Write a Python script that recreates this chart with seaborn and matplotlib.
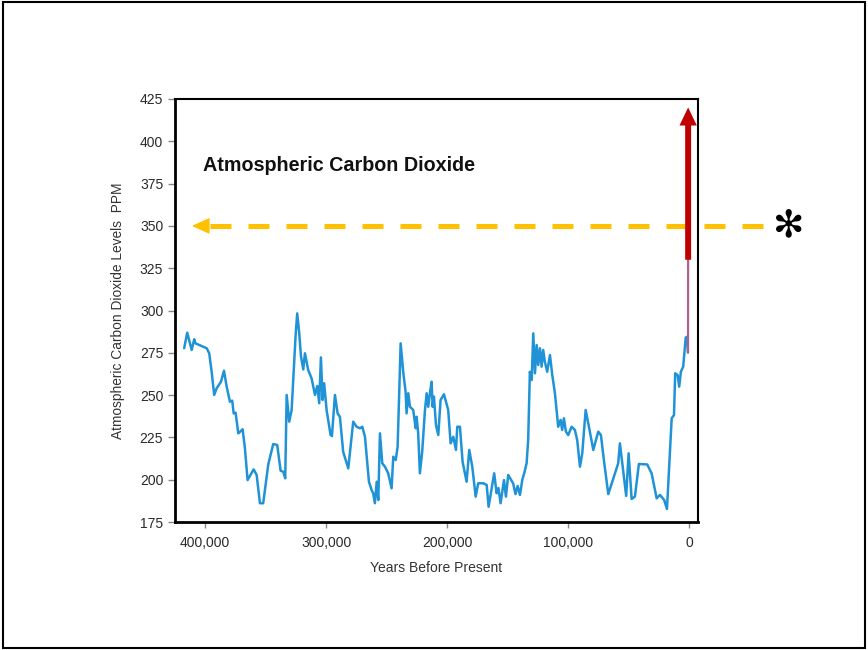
import matplotlib
matplotlib.use("Agg")
import numpy as np
import pandas as pd
import matplotlib.pyplot as plt
import seaborn as sns
from matplotlib.patches import Rectangle
from matplotlib.ticker import FuncFormatter


# Ice core record (years before present, ppm)
years = [
    417400, 414900, 411200, 409100, 408100, 398800, 396700, 394700, 392600, 390600,
    387000, 384500, 382300, 379600, 377700, 376500, 374900, 372700, 371100, 369100,
    367200, 365000, 360000, 357500, 354800, 352100, 347900, 343800, 340500, 337700,
    335500, 333900, 332700, 330600, 328600, 325300, 324000, 322300, 320900, 319000,
    317600, 314900, 312100, 309300, 307400, 305800, 304400, 303000, 301700, 299700,
    296400, 295300, 292800, 290600, 288700, 286000, 281800, 277700, 274900, 272100,
    270200, 268000, 264700, 262500, 261200, 259800, 258300, 257000, 255600, 253700,
    251500, 248800, 246000, 244600, 242600, 241000, 238500, 236400, 234400, 233600,
    232200, 230800, 228100, 226100, 225300, 224000, 222600, 220700, 218400, 217000,
    215700, 214300, 212900, 212100, 211000, 209300, 207400, 205500, 202700, 199200,
    197200, 195000, 192800, 191700, 189500, 187300, 184000, 181800, 179300, 176500,
    174400, 170200, 167400, 165800, 161200, 159200, 157700, 155900, 153100, 151500,
    149600, 145500, 143600, 141800, 139900, 138000, 136400, 134400, 133100, 131700,
    130200, 128900, 127500, 126100, 124800, 123400, 122000, 120700, 119300, 117400,
    115100, 113200, 111000, 108300, 106300, 105000, 103600, 101900, 100000, 97200,
    94500, 92600, 90300, 88400, 85600, 82900, 79300, 75200, 73000, 70200,
    66900, 58700, 57300, 52100, 50100, 47600, 44900, 41600, 34700, 31100,
    26900, 24200, 20700, 18400, 14500, 12600, 11600, 9600, 8300, 6900,
    5000, 2900, 1700, 1100,
]
ppm = [
    277.7, 286.9, 276.7, 283.0, 280.6, 277.7, 274.7, 263.8, 250.1, 254.0,
    257.9, 264.4, 255.0, 246.1, 246.7, 239.2, 239.6, 227.4, 228.4, 229.8,
    218.6, 199.8, 206.1, 202.8, 186.1, 186.1, 209.1, 221.1, 220.5, 205.3,
    204.7, 200.8, 250.1, 234.3, 241.2, 285.5, 298.3, 286.5, 273.1, 265.2,
    274.7, 264.8, 259.9, 250.1, 255.4, 245.2, 272.3, 247.1, 257.0, 241.2,
    226.4, 225.8, 250.1, 239.2, 237.2, 216.5, 206.7, 234.3, 231.3, 230.4,
    231.3, 225.4, 198.8, 193.9, 192.0, 186.1, 198.8, 188.0, 227.4, 209.7,
    207.7, 203.8, 194.9, 213.6, 211.6, 219.5, 280.6, 263.8, 252.0, 239.2,
    251.1, 243.1, 241.2, 230.4, 237.2, 227.4, 203.8, 216.5, 241.2, 251.1,
    243.1, 251.2, 257.9, 243.1, 249.1, 232.3, 226.4, 247.1, 250.5, 241.2,
    221.5, 225.4, 217.6, 231.3, 231.3, 210.6, 198.8, 217.6, 207.7, 190.0,
    197.9, 197.9, 196.9, 184.0, 203.8, 192.0, 195.1, 186.1, 199.8, 190.0,
    202.8, 197.8, 191.5, 196.3, 191.0, 199.8, 203.8, 209.7, 223.5, 263.8,
    258.9, 286.5, 262.9, 279.6, 267.8, 277.7, 266.8, 276.7, 269.7, 263.8,
    273.7, 261.9, 251.1, 231.3, 235.3, 229.4, 236.3, 228.4, 226.4, 231.3,
    229.4, 223.5, 207.7, 215.6, 241.2, 231.3, 217.6, 228.4, 226.4, 209.7,
    191.5, 209.7, 221.5, 190.4, 215.6, 188.6, 190.0, 209.3, 209.0, 203.8,
    189.0, 191.0, 188.0, 182.7, 236.3, 238.2, 262.9, 261.9, 255.0, 263.8,
    266.8, 284.0, 284.5, 275.2,
]

# Modern instrumental rise
modern_years = [1000, 900]
modern_ppm = [275.2, 330.0]

# Annotation levels
ARROW_TOP_PPM = 420
REF_PPM = 350
REF_FROM_YEAR = -60900
REF_TO_YEAR = 411000
REF_HEAD_BASE_YEAR = 398000

BLUE = "#1f93d6"
RED = "#c00000"
GOLD = "#ffc000"
MAUVE = "#b0608e"

df = pd.DataFrame({"years": years, "ppm": ppm})
df_modern = pd.DataFrame({"years": modern_years, "ppm": modern_ppm})

sns.set_style("white")
plt.rcParams["font.family"] = ["Liberation Sans", "DejaVu Sans"]

fig = plt.figure(figsize=(8.68, 6.5), dpi=100)
ax = fig.add_axes([0.2016, 0.1969, 0.6022, 0.6508])

sns.lineplot(data=df, x="years", y="ppm", ax=ax, color=BLUE, linewidth=1.8,
             sort=False, estimator=None)
sns.lineplot(data=df_modern, x="years", y="ppm", ax=ax, color=MAUVE,
             linewidth=1.6, sort=False, estimator=None)

# Dashed gold reference arrow at 350 ppm
ax.plot([REF_FROM_YEAR, REF_HEAD_BASE_YEAR], [REF_PPM, REF_PPM], color=GOLD,
        lw=3.6, dashes=(4.2, 3.4), clip_on=False, zorder=4)
ax.annotate("", xy=(REF_TO_YEAR, REF_PPM), xytext=(REF_HEAD_BASE_YEAR, REF_PPM),
            arrowprops=dict(arrowstyle="-|>,head_length=11,head_width=5",
                            color=GOLD, lw=1, shrinkA=0, shrinkB=0,
                            mutation_scale=1))
ax.text(-82000, REF_PPM, "✻", fontsize=27, ha="center", va="center",
        color="black", clip_on=False, family=["DejaVu Sans"])

# Red arrow for the modern rise (drawn above the gold line)
ax.annotate("", xy=(modern_years[1], ARROW_TOP_PPM),
            xytext=(modern_years[1], modern_ppm[1]), zorder=6,
            arrowprops=dict(arrowstyle="simple,head_length=13,head_width=12.5,tail_width=4.3",
                            color=RED, lw=0, shrinkA=0, shrinkB=0,
                            mutation_scale=1))

ax.text(0.0536, 0.842, "Atmospheric Carbon Dioxide", transform=ax.transAxes,
        fontsize=14.2, fontweight="bold", ha="left", va="center", color="#111111")

ax.set_xlim(425000, -7000)
ax.set_ylim(175, 425)
ax.set_xticks([400000, 300000, 200000, 100000, 0])
ax.set_yticks(np.arange(175, 426, 25))
ax.xaxis.set_major_formatter(FuncFormatter(lambda v, p: f"{int(v):,}"))

ax.set_xlabel("Years Before Present", fontsize=10, color="#333333")
ax.set_ylabel("Atmospheric Carbon Dioxide Levels  PPM", fontsize=9.9,
              color="#333333")
ax.xaxis.set_label_coords(0.5, -0.092)
ax.yaxis.set_label_coords(-0.096, 0.5)

ax.tick_params(axis="both", which="major", labelsize=10, labelcolor="#2a2a2a",
               color="#888888", width=1)
ax.tick_params(axis="y", left=True, length=5, pad=3.5)
ax.tick_params(axis="x", bottom=True, length=4, pad=6)

for side in ["left", "bottom"]:
    ax.spines[side].set_linewidth(2.0)
for side in ["top", "right"]:
    ax.spines[side].set_linewidth(1.5)
for side in ax.spines:
    ax.spines[side].set_color("black")

# Slide border
fig.patches.append(Rectangle((0.003, 0.003), 0.994, 0.994, transform=fig.transFigure,
                             fill=False, edgecolor="black", lw=1.5))

fig.savefig("out.png", dpi=100)
